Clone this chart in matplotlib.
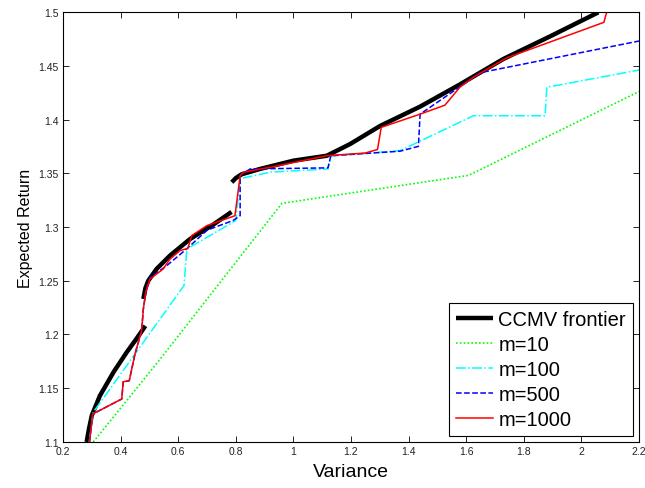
import matplotlib
matplotlib.use("Agg")
import matplotlib.pyplot as plt
import numpy as np
from matplotlib.ticker import FuncFormatter

plt.rcParams["font.family"] = ["Liberation Sans", "DejaVu Sans"]

# CCMV frontier, three pieces (variance, expected return)
ccmv_var_1 = [0.282, 0.290, 0.300, 0.328, 0.375, 0.421, 0.455, 0.486]
ccmv_ret_1 = [1.100, 1.112, 1.1247, 1.143, 1.1648, 1.1834, 1.196, 1.208]
ccmv_var_2 = [0.479, 0.486, 0.496, 0.525, 0.571, 0.641, 0.722, 0.785]
ccmv_ret_2 = [1.233, 1.243, 1.250, 1.261, 1.2733, 1.2888, 1.3023, 1.314]
ccmv_var_3 = [0.786, 0.800, 0.820, 0.884, 1.000, 1.116, 1.197, 1.301, 1.440,
              1.578, 1.729, 1.891, 2.059]
ccmv_ret_3 = [1.3416, 1.3455, 1.349, 1.354, 1.3617, 1.3663, 1.3772, 1.394,
              1.412, 1.4326, 1.4563, 1.4773, 1.4997]

m10_var = [0.305, 0.537, 0.960, 1.608, 2.200]
m10_ret = [1.100, 1.177, 1.322, 1.348, 1.426]

m100_var = [0.291, 0.305, 0.620, 0.630, 0.800, 0.815, 0.920, 1.120, 1.130,
            1.370, 1.625, 1.874, 1.880, 2.200]
m100_ret = [1.100, 1.1276, 1.2455, 1.2795, 1.306, 1.345, 1.351, 1.354, 1.366,
            1.371, 1.4035, 1.4035, 1.430, 1.446]

m500_var = [0.292, 0.303, 0.404, 0.409, 0.430, 0.450, 0.473, 0.479, 0.488,
            0.502, 0.560, 0.629, 0.700, 0.790, 0.815, 0.815, 0.850, 1.120,
            1.130, 1.370, 1.434, 1.440, 1.567, 1.648, 2.200]
m500_ret = [1.100, 1.126, 1.140, 1.156, 1.157, 1.182, 1.2035, 1.224, 1.240,
            1.253, 1.264, 1.2795, 1.297, 1.306, 1.3105, 1.348, 1.354, 1.355,
            1.3663, 1.3705, 1.375, 1.405, 1.4284, 1.4435, 1.473]

m1000_var = [0.292, 0.303, 0.404, 0.409, 0.430, 0.450, 0.473, 0.479, 0.488,
             0.502, 0.525, 0.548, 0.571, 0.606, 0.633, 0.647, 0.699, 0.797,
             0.809, 0.815, 0.826, 0.919, 1.116, 1.249, 1.292, 1.305, 1.440,
             1.526, 1.578, 1.625, 1.741, 2.078, 2.088]
m1000_ret = [1.100, 1.126, 1.140, 1.156, 1.157, 1.182, 1.2035, 1.224, 1.240,
             1.2516, 1.2563, 1.261, 1.270, 1.278, 1.2801, 1.292, 1.3012, 1.3105,
             1.3353, 1.3477, 1.3509, 1.3555, 1.3663, 1.3688, 1.3721, 1.3927,
             1.405, 1.4133, 1.430, 1.4393, 1.4574, 1.4904, 1.500]

x_ticks = [0.2, 0.4, 0.6, 0.8, 1.0, 1.2, 1.4, 1.6, 1.8, 2.0, 2.2]
y_ticks = [1.1, 1.15, 1.2, 1.25, 1.3, 1.35, 1.4, 1.45, 1.5]

# frontier pieces joined with gaps
ccmv_var = ccmv_var_1 + [np.nan] + ccmv_var_2 + [np.nan] + ccmv_var_3
ccmv_ret = ccmv_ret_1 + [np.nan] + ccmv_ret_2 + [np.nan] + ccmv_ret_3

fig, ax = plt.subplots(figsize=(6.45, 4.89), dpi=100)
fig.subplots_adjust(left=0.0977, right=0.9907, bottom=0.0941, top=0.9734)

ax.plot(ccmv_var, ccmv_ret, color="black", lw=3.2, label="CCMV frontier",
        solid_capstyle="butt")
ax.plot(m10_var, m10_ret, color="#00ff00", lw=1.2, ls=(0, (1, 1.3)), label="m=10")
ax.plot(m100_var, m100_ret, color="#00ffff", lw=1.1, ls="-.", label="m=100")
ax.plot(m500_var, m500_ret, color="#0000ff", lw=1.1, ls="--", label="m=500")
ax.plot(m1000_var, m1000_ret, color="#ff0000", lw=1.1, ls="-", label="m=1000")

ax.set_xlim(0.2, 2.2)
ax.set_ylim(1.1, 1.5)
ax.set_xticks(x_ticks)
ax.set_yticks(y_ticks)
fmt = FuncFormatter(lambda v, pos: f"{v:g}")
ax.xaxis.set_major_formatter(fmt)
ax.yaxis.set_major_formatter(fmt)
ax.tick_params(direction="in", top=True, right=True, length=4, width=0.6,
               labelsize=7.5, pad=3, labelcolor="#222222")
for sp in ax.spines.values():
    sp.set_linewidth(0.8)

ax.set_xlabel("Variance", fontsize=14, labelpad=5)
ax.set_ylabel("Expected Return", fontsize=11.5, labelpad=4)

leg = ax.legend(loc="lower right", fontsize=14.5, fancybox=False,
                edgecolor="black", framealpha=1, borderaxespad=0.3,
                handlelength=1.85, handletextpad=0.25, labelspacing=0.3,
                borderpad=0.35)
leg.get_frame().set_linewidth(0.8)

fig.savefig("out.png", dpi=100)
